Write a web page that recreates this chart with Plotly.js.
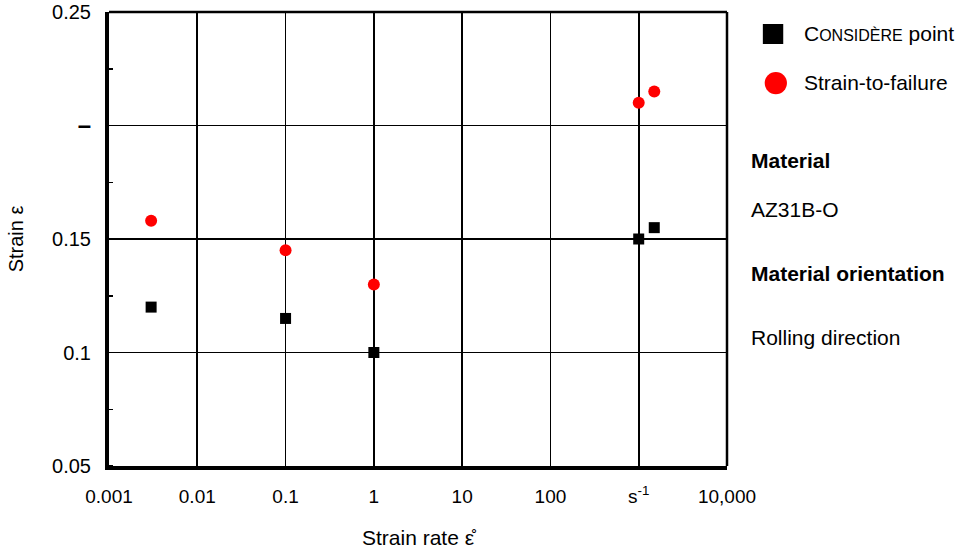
<!DOCTYPE html>
<html>
<head>
<meta charset="utf-8">
<script src="https://cdn.plot.ly/plotly-3.0.1.min.js"></script>
<style>html,body{margin:0;padding:0;background:#fff;}#chart{width:971px;height:552px;}</style>
</head>
<body>
<div id="chart"></div>
<script>
// Data
const strainRate = [0.003, 0.1, 1, 1000, 1500];
const considerePoint = [0.12, 0.115, 0.1, 0.15, 0.155];
const strainToFailure = [0.158, 0.145, 0.13, 0.21, 0.215];
const xTickVals = [0.001, 0.01, 0.1, 1, 10, 100, 1000, 10000];
const xTickText = ['0.001', '0.01', '0.1', '1', '10', '100', 's<sup>-1</sup>', '10,000'];
const yTickVals = [0.05, 0.1, 0.15, 0.2, 0.25];
const yTickText = ['0.05', '0.1', '0.15', '<span style="font-size:24px;font-weight:bold">–</span>', '0.25'];
const seriesNames = ['C<span style="font-size:16px">ONSIDÈRE</span> point', 'Strain-to-failure'];
const infoLines = [['<b>Material</b>', 0.672], ['AZ31B-O', 0.564], ['<b>Material orientation</b>', 0.425], ['Rolling direction', 0.284]];

const FONT = 'Arial, "Liberation Sans", sans-serif';

const traces = [
  {x: strainRate, y: considerePoint, mode: 'markers', type: 'scatter', name: seriesNames[0],
   marker: {symbol: 'square', size: 11, color: '#000'}, showlegend: false},
  {x: strainRate, y: strainToFailure, mode: 'markers', type: 'scatter', name: seriesNames[1],
   marker: {symbol: 'circle', size: 12, color: '#ff0000'}, showlegend: false}
];

const annotations = [
  {xref: 'paper', yref: 'paper', x: 1.121, y: 0.952, xanchor: 'left', yanchor: 'middle', text: seriesNames[0], showarrow: false, font: {family: FONT, size: 21, color: '#000'}},
  {xref: 'paper', yref: 'paper', x: 1.121, y: 0.844, xanchor: 'left', yanchor: 'middle', text: seriesNames[1], showarrow: false, font: {family: FONT, size: 21, color: '#000'}}
];
infoLines.forEach(function (l) {
  annotations.push({xref: 'paper', yref: 'paper', x: 1.036, y: l[1], xanchor: 'left', yanchor: 'middle', text: l[0], showarrow: false, font: {family: FONT, size: 21, color: '#000'}});
});

const shapes = [
  // legend symbols
  {type: 'rect', xref: 'paper', yref: 'paper', x0: 1.058, x1: 1.091, y0: 0.9295, y1: 0.9736, fillcolor: '#000', line: {width: 0}},
  {type: 'circle', xref: 'paper', yref: 'paper', x0: 1.061, x1: 1.097, y0: 0.819, y1: 0.868, fillcolor: '#ff0000', line: {width: 0}},
  // frame top/right
  {type: 'line', xref: 'paper', yref: 'paper', x0: 0, x1: 1, y0: 1, y1: 1, line: {color: '#000', width: 2.5}},
  {type: 'line', xref: 'paper', yref: 'paper', x0: 1, x1: 1, y0: 0, y1: 1, line: {color: '#000', width: 2.5}}
];

const layout = {
  width: 971, height: 552,
  margin: {l: 109, r: 244, t: 12, b: 86},
  paper_bgcolor: '#fff', plot_bgcolor: '#fff',
  font: {family: FONT, size: 19, color: '#000'},
  xaxis: {
    type: 'log', range: [-3, 4], tickvals: xTickVals, ticktext: xTickText,
    tickfont: {family: FONT, size: 19},
    showgrid: true, gridcolor: '#000', gridwidth: 1.6,
    showline: true, linecolor: '#000', linewidth: 4, ticks: '', ticklabelstandoff: 10,
    zeroline: false,
    title: {text: 'Strain rate ε̊', font: {family: FONT, size: 21}, standoff: 26}
  },
  yaxis: {
    range: [0.05, 0.25], tickvals: yTickVals, ticktext: yTickText,
    tickfont: {family: FONT, size: 20},
    showgrid: true, gridcolor: '#000', gridwidth: 1.6,
    showline: true, linecolor: '#000', linewidth: 4, ticks: '', ticklabelstandoff: 10,
    zeroline: false,
    minor: {ticks: 'inside', ticklen: 4, tickwidth: 1.5, tickcolor: '#000', dtick: 0.025, tick0: 0.05, showgrid: false},
    title: {text: 'Strain ε', font: {family: FONT, size: 20}, standoff: 24}
  },
  yaxis2: {
    overlaying: 'y', side: 'right', range: [0.05, 0.25], tick0: 0.05, dtick: 0.02,
    ticks: 'outside', ticklen: 4, tickwidth: 1.5, tickcolor: '#000',
    showticklabels: false, showgrid: false, zeroline: false,
    showline: true, linecolor: '#000', linewidth: 2
  },
  annotations: annotations,
  shapes: shapes
};

Plotly.newPlot('chart', traces, layout, {staticPlot: true, displayModeBar: false});
</script>
</body>
</html>
